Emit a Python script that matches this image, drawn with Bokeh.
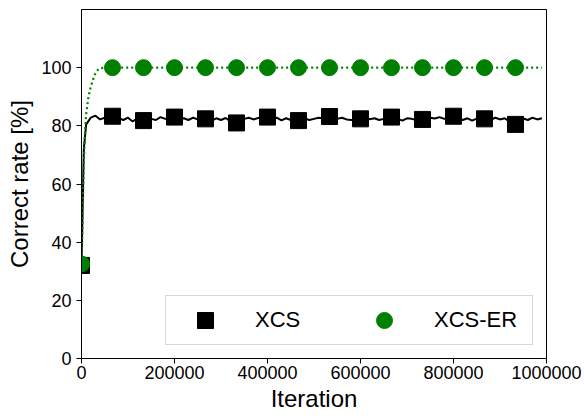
from bokeh.plotting import figure
from bokeh.models import Range1d, FixedTicker, BasicTickFormatter, Legend, LegendItem
from bokeh.embed import file_html
from bokeh.resources import INLINE

# ---- data ----
xcs_line_x = [0, 5000] + list(range(10000, 1000000, 10000))
xcs_line_y = [32.0, 72.0,
              80.5, 82.8, 83.5, 82.2, 82.8, 83.0, 83.2, 82.6, 82.0, 82.8,
              81.5, 82.6, 81.9, 81.8, 82.4, 82.0, 83.0, 82.4, 82.8, 83.0,
              82.3, 82.6, 82.0, 82.8, 82.2, 82.4, 82.4, 81.8, 82.6, 82.0,
              82.7, 81.6, 81.1, 81.5, 82.4, 82.8, 82.2, 82.7, 82.9, 83.0,
              82.4, 82.8, 81.9, 82.6, 82.0, 81.9, 81.8, 82.5, 82.0, 82.4,
              82.8, 82.5, 83.1, 83.2, 82.4, 82.8, 82.2, 82.0, 82.3, 82.4,
              82.9, 82.3, 82.6, 82.0, 82.4, 82.9, 83.0, 82.4, 81.8, 82.6,
              82.4, 82.0, 82.3, 82.2, 82.8, 82.5, 83.0, 82.4, 83.0, 83.3,
              82.5, 82.0, 82.6, 81.8, 82.5, 82.3, 82.4, 82.0, 82.8, 82.2,
              82.6, 81.5, 80.8, 81.4, 82.5, 82.0, 82.8, 82.2, 82.6]
er_line_x = [0, 2000, 4000, 6000, 8000, 10000, 15000, 20000, 25000, 30000,
             35000, 40000, 50000, 990000]
er_line_y = [32.5, 45.0, 62.0, 72.0, 79.0, 84.0, 90.0, 93.5, 96.0, 98.0,
             99.2, 99.8, 100.0, 100.0]

marker_x = [0, 66667, 133333, 200000, 266667, 333333, 400000, 466667,
            533333, 600000, 666667, 733333, 800000, 866667, 933333]
xcs_marker_y = [32.0, 83.3, 81.8, 83.0, 82.4, 81.0, 83.0, 81.8, 83.2, 82.4,
                83.0, 82.2, 83.3, 82.4, 80.5]
er_marker_y = [32.5, 100, 100, 100, 100, 100, 100, 100, 100, 100, 100, 100,
               100, 100, 100]

x_ticks = [0, 200000, 400000, 600000, 800000, 1000000]
y_ticks = [0, 20, 40, 60, 80, 100]
series_names = ["XCS", "XCS-ER"]

FONT = "Liberation Sans"

p = figure(width=584, height=418, output_backend="svg", toolbar_location=None,
           x_range=Range1d(0, 1000000), y_range=Range1d(0, 120),
           min_border_left=81, min_border_right=38, min_border_top=9,
           min_border_bottom=60)

p.xgrid.visible = False
p.ygrid.visible = False
p.outline_line_color = "black"
p.outline_line_width = 1
p.background_fill_color = "white"
p.border_fill_color = "white"

for ax in (p.xaxis[0], p.yaxis[0]):
    ax.axis_line_color = "black"
    ax.major_tick_line_color = "black"
    ax.major_tick_out = 5
    ax.major_tick_in = 0
    ax.minor_tick_line_color = None
    ax.major_label_text_font = FONT
    ax.major_label_text_font_size = "18px"
    ax.major_label_text_color = "black"
    ax.axis_label_text_font = FONT
    ax.axis_label_text_font_size = "24px"
    ax.axis_label_text_font_style = "normal"
    ax.axis_label_text_color = "black"

p.xaxis.ticker = FixedTicker(ticks=x_ticks)
p.yaxis.ticker = FixedTicker(ticks=y_ticks)
p.xaxis.formatter = BasicTickFormatter(use_scientific=False)
p.xaxis.axis_label = "Iteration"
p.yaxis.axis_label = "Correct rate [%]"
p.xaxis.major_label_standoff = 2
p.xaxis.axis_label_standoff = 3
p.yaxis.major_label_standoff = 5
p.yaxis.axis_label_standoff = 5

p.line(xcs_line_x, xcs_line_y, line_color="black", line_width=2)
sq = p.scatter(marker_x, xcs_marker_y, marker="square", size=16,
               fill_color="black", line_color="black")
p.line(er_line_x, er_line_y, line_color="#008000", line_width=2.2,
       line_dash="2 3")
ci = p.scatter(marker_x, er_marker_y, marker="circle", size=16,
               fill_color="#008000", line_color="#008000")

legend = Legend(items=[LegendItem(label=series_names[0], renderers=[sq]),
                       LegendItem(label=series_names[1], renderers=[ci])],
                orientation="horizontal", location="bottom_right",
                margin=13, padding=4, spacing=0,
                glyph_width=70, glyph_height=40, label_standoff=15,
                label_width=94,
                label_text_font=FONT, label_text_font_size="22px",
                label_text_color="black",
                border_line_color="#cccccc", border_line_alpha=0.8,
                background_fill_color="white", background_fill_alpha=0.8)
p.add_layout(legend, "center")

open("out.html", "w").write(file_html(p, INLINE))
